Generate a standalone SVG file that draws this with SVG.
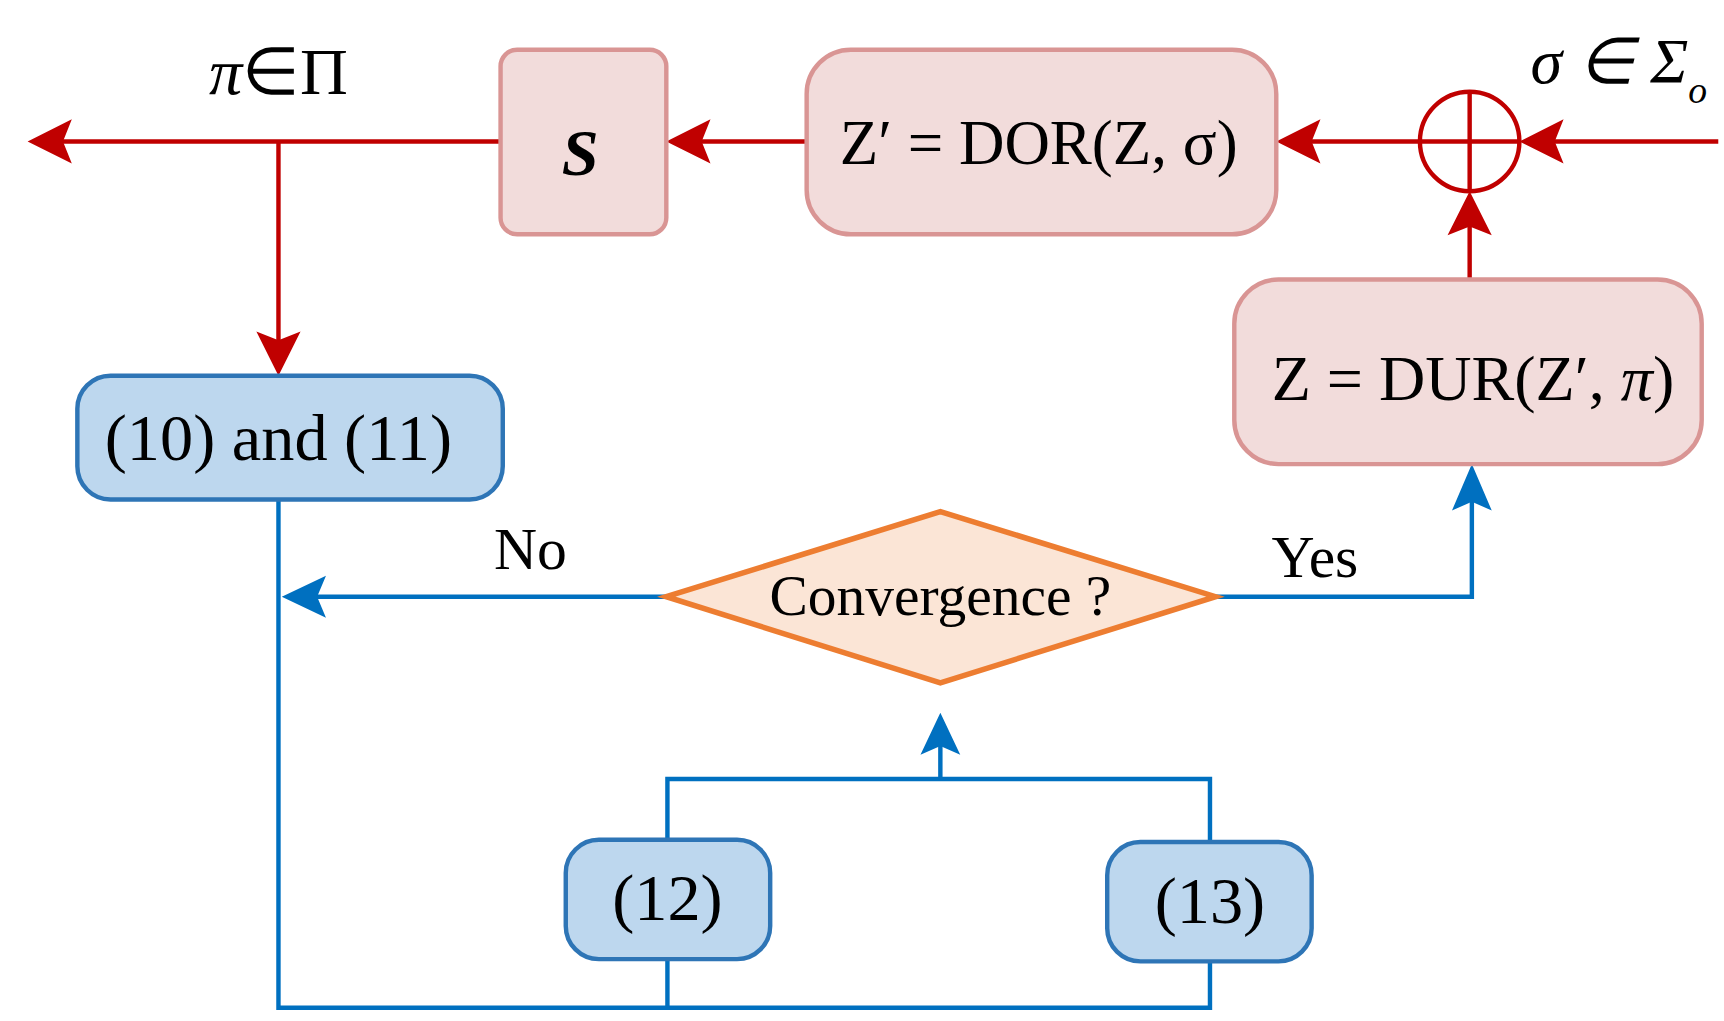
<svg xmlns="http://www.w3.org/2000/svg" width="1724" height="1021" viewBox="0 0 1724 1021">
<defs>
<style>
.r{stroke:#c00000;stroke-width:4;fill:none}
.b{stroke:#0070c0;stroke-width:4;fill:none}
.pk{fill:#f2dcdb;stroke:#d99594;stroke-width:4}
.bl{fill:#bdd7ee;stroke:#2e75b6;stroke-width:4}
text{font-family:"Liberation Serif","Times New Roman",serif;fill:#000;text-anchor:middle}
</style>
</defs>
<rect width="1724" height="1021" fill="#fff"/>
<g transform="scale(1.105)">
<g id="connectors">
<line class="r" x1="455" y1="128" x2="45" y2="128"/>
<path d="M25,128 l40,-20 l-8,20 l8,20 z" fill="#c00000"/>
<line class="r" x1="252" y1="128" x2="252" y2="315"/>
<path d="M252,340 l-20,-40 l20,8 l20,-8 z" fill="#c00000"/>
<line class="r" x1="730" y1="128" x2="625" y2="128"/>
<path d="M603,128 l40,-20 l-8,20 l8,20 z" fill="#c00000"/>
<line class="r" x1="1285" y1="128" x2="1175" y2="128"/>
<path d="M1155,128 l40,-20 l-8,20 l8,20 z" fill="#c00000"/>
<line class="r" x1="1555" y1="128" x2="1395" y2="128"/>
<path d="M1375,128 l40,-20 l-8,20 l8,20 z" fill="#c00000"/>
<line class="r" x1="1330" y1="253" x2="1330" y2="195"/>
<path d="M1330,173 l-20,40 l20,-8 l20,8 z" fill="#c00000"/>
<polyline class="b" points="252,452 252,912 1095,912 1095,870"/>
<line class="b" x1="604" y1="868" x2="604" y2="912"/>
<polyline class="b" points="604,760 604,705 1095,705 1095,762"/>
<line class="b" x1="851" y1="705" x2="851" y2="665"/>
<path d="M851,645 l-18,38 l18,-8 l18,8 z" fill="#0070c0"/>
<line class="b" x1="603" y1="540" x2="275" y2="540"/>
<path d="M255,540 l40,-19 l-8,19 l8,19 z" fill="#0070c0"/>
<polyline class="b" points="1100,540 1332,540 1332,440"/>
<path d="M1332,420 l-18,42 l18,-8 l18,8 z" fill="#0070c0"/>
</g>
<g id="s"><rect class="pk" x="453" y="45" width="150" height="167" rx="15"/><text x="525" y="158" font-size="60" font-style="italic" font-weight="bold">S</text></g>
<g id="dor"><rect class="pk" x="730" y="45" width="425" height="167" rx="40"/><text x="940" y="148" font-size="57">Z′ = DOR(Z, σ)</text></g>
<g id="sum"><circle cx="1330" cy="128" r="45" fill="none" stroke="#c00000" stroke-width="4"/><line class="r" x1="1285" y1="128" x2="1375" y2="128"/><line class="r" x1="1330" y1="83" x2="1330" y2="173"/></g>
<g id="dur"><rect class="pk" x="1117" y="253" width="423" height="167" rx="40"/><text x="1333" y="362" font-size="58">Z = DUR(Z′, <tspan font-style="italic">π</tspan>)</text></g>
<g id="n1011"><rect class="bl" x="70" y="340" width="385" height="112" rx="30"/><text x="252" y="416" font-size="60">(10) and (11)</text></g>
<g id="conv"><polygon points="603,540 851,463 1100,540 851,618" fill="#fbe5d6" stroke="#ed7d31" stroke-width="5"/><text x="851" y="557" font-size="52">Convergence ?</text></g>
<g id="n12"><rect class="bl" x="512" y="760" width="185" height="108" rx="30"/><text x="604" y="833" font-size="60">(12)</text></g>
<g id="n13"><rect class="bl" x="1002" y="762" width="185" height="108" rx="30"/><text x="1095" y="835" font-size="60">(13)</text></g>
<g id="labels">
<text x="252" y="85" font-size="60"><tspan font-style="italic">π</tspan>∈Π</text>
<text x="1465" y="75" font-size="58" font-style="italic">σ ∈ Σ<tspan font-size="34" dy="18">o</tspan></text>
<text x="480" y="515" font-size="54">No</text>
<text x="1190" y="522" font-size="54">Yes</text>
</g>
</g>
</svg>
